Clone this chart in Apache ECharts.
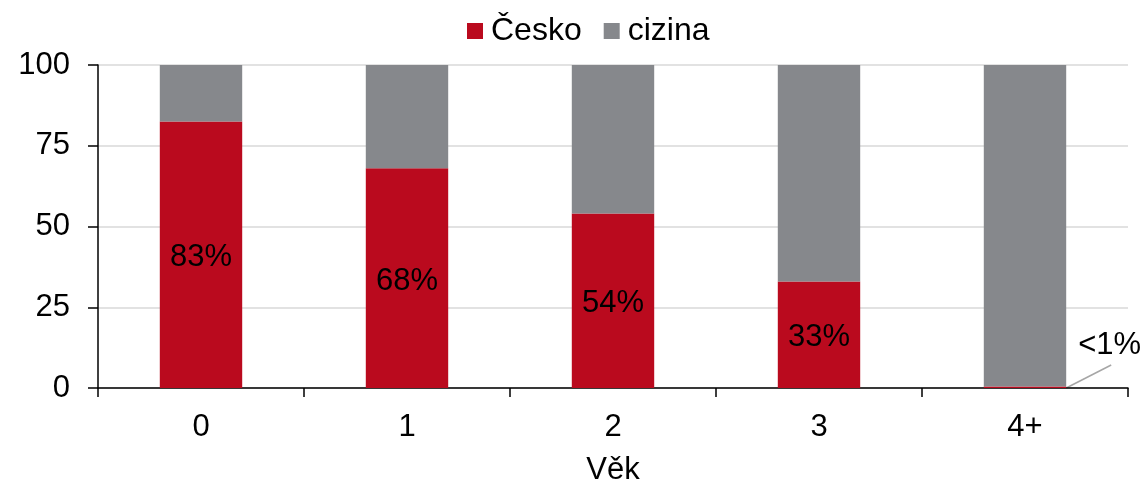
<!DOCTYPE html>
<html>
<head>
<meta charset="utf-8">
<script src="https://cdn.jsdelivr.net/npm/echarts@6/dist/echarts.min.js"></script>
<style>html,body{margin:0;padding:0;background:#fff}#c{width:1144px;height:486px}</style>
</head>
<body>
<div id="c"></div>
<script>
const categories = ['0', '1', '2', '3', '4+'];
const ceskoValues = [82.5, 68, 54, 33, 0.5];
const cizinaValues = [17.5, 32, 46, 67, 99.5];
const ceskoLabels = ['83%', '68%', '54%', '33%', '<1%'];
const yTicks = [0, 25, 50, 75, 100];
const seriesNames = ['Česko', 'cizina'];
const axisName = 'Věk';

const FONT = '"Liberation Sans", Arial, sans-serif';
const FS = 31;
const chart = echarts.init(document.getElementById('c'));
const last = ceskoValues.length - 1;
chart.setOption({
  animation: false,
  textStyle: { fontFamily: FONT },
  legend: {
    top: 10, left: 462, itemWidth: 16, itemHeight: 16, itemGap: 22,
    icon: 'rect',
    textStyle: { fontSize: 32, color: '#000', fontFamily: FONT, padding: [0, 0, 0, 3] },
    data: seriesNames
  },
  grid: { left: 98, right: 16, top: 65, bottom: 98, containLabel: false, outerBoundsMode: 'none' },
  xAxis: {
    type: 'category', data: categories,
    name: axisName, nameLocation: 'middle', nameGap: 67,
    nameTextStyle: { fontSize: FS, color: '#000', fontFamily: FONT },
    axisLine: { lineStyle: { color: '#000', width: 1.5 } },
    axisTick: { show: true, length: 9, lineStyle: { color: '#000', width: 1.5 } },
    axisLabel: { fontSize: FS, color: '#000', margin: 24, fontFamily: FONT }
  },
  yAxis: {
    type: 'value', min: 0, max: 100, interval: 25,
    axisLine: { show: true, lineStyle: { color: '#000', width: 1.5 } },
    axisTick: { show: true, length: 10, lineStyle: { color: '#000', width: 1.5 } },
    axisLabel: { fontSize: FS, color: '#000', margin: 28, fontFamily: FONT,
      formatter: v => yTicks.indexOf(v) >= 0 ? String(v) : '' },
    splitLine: { lineStyle: { color: '#d9d9d9', width: 1.5 } }
  },
  series: [
    {
      name: seriesNames[0], type: 'bar', stack: 's', barWidth: '40%',
      itemStyle: { color: '#BA0A1E' },
      data: ceskoValues,
      label: {
        show: true, position: 'inside', fontSize: FS, color: '#000', fontFamily: FONT,
        formatter: p => ceskoLabels[p.dataIndex]
      },
      labelLayout: function (p) {
        if (p.dataIndex === last) {
          return { x: p.rect.x + p.rect.width + 12, y: p.rect.y + p.rect.height - 43, align: 'left', verticalAlign: 'middle' };
        }
        return { dy: 3 };
      }
    },
    {
      name: seriesNames[1], type: 'bar', stack: 's', barWidth: '40%',
      itemStyle: { color: '#86888C' },
      data: cizinaValues
    }
  ]
});

// leader line for the small last label, anchored via the chart's own scales
const pA = chart.convertToPixel({ seriesIndex: 0 }, [last, 0]);
const pB = chart.convertToPixel({ seriesIndex: 0 }, [last - 1, 0]);
const band = pA[0] - pB[0];
const barRight = pA[0] + band * 0.2;
chart.setOption({
  graphic: [{
    type: 'line', silent: true,
    shape: { x1: barRight, y1: pA[1], x2: barRight + 45, y2: pA[1] - 23 },
    style: { stroke: '#a6a6a6', lineWidth: 1.5 }
  }]
});
</script>
</body>
</html>
